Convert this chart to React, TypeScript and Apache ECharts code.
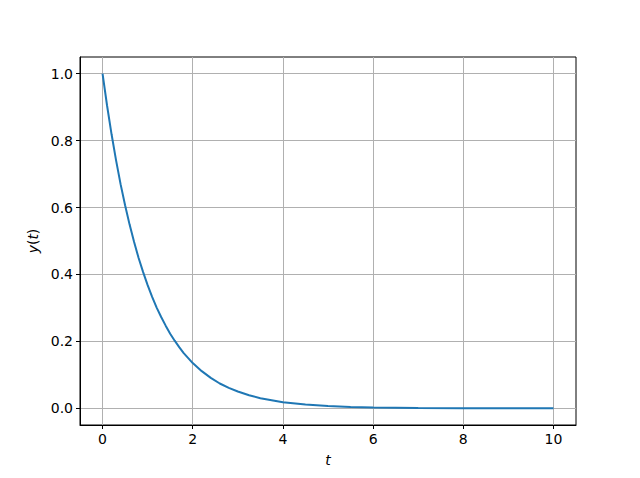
import React, { useEffect, useRef } from "react";
import * as echarts from "echarts";

const tValues = [0, 0.1, 0.2, 0.3, 0.4, 0.5, 0.6, 0.7, 0.8, 0.9, 1.0, 1.1, 1.2, 1.3, 1.4, 1.5, 1.6, 1.7, 1.8, 1.9, 2.0, 2.2, 2.4, 2.6, 2.8, 3.0, 3.25, 3.5, 3.75, 4.0, 4.5, 5, 5.5, 6, 7, 8, 9, 10];
const yValues = [1.0, 0.905, 0.819, 0.741, 0.67, 0.607, 0.549, 0.497, 0.449, 0.407, 0.368, 0.333, 0.301, 0.273, 0.247, 0.223, 0.202, 0.183, 0.165, 0.15, 0.135, 0.111, 0.091, 0.074, 0.061, 0.05, 0.039, 0.03, 0.024, 0.018, 0.011, 0.007, 0.004, 0.0025, 0.001, 0.0003, 0.0001, 0.00005];
const xTicks = [0, 2, 4, 6, 8, 10];
const yTicks = [0.0, 0.2, 0.4, 0.6, 0.8, 1.0];

export default function App() {
  const ref = useRef<HTMLDivElement>(null);
  useEffect(() => {
    const chart = echarts.init(ref.current!, null, { renderer: "svg" });
    const font = "DejaVu Sans";
    chart.setOption({
      animation: false,
      grid: {
        left: 80,
        right: 64,
        top: 57,
        bottom: 53,
        show: true,
        borderColor: "#000",
        borderWidth: 1,
      },
      xAxis: {
        type: "value",
        min: -0.5,
        max: 10.5,
        axisLine: { show: true, onZero: false, lineStyle: { color: "#000", width: 1 } },
        axisTick: { show: true, customValues: xTicks, length: 4, lineStyle: { color: "#000" } },
        axisLabel: {
          customValues: xTicks,
          color: "#000",
          fontFamily: font,
          fontSize: 14,
          margin: 7,
          formatter: (v: number) => String(v),
        },
        splitLine: { show: true, lineStyle: { color: "#b0b0b0", width: 1 } },
        name: "t",
        nameLocation: "middle",
        nameGap: 28,
        nameTextStyle: { fontFamily: font, fontSize: 14, fontStyle: "italic", color: "#000" },
      },
      yAxis: {
        type: "value",
        min: -0.05,
        max: 1.05,
        axisLine: { show: true, onZero: false, lineStyle: { color: "#000", width: 1 } },
        axisTick: { show: true, customValues: yTicks, length: 4, lineStyle: { color: "#000" } },
        axisLabel: {
          customValues: yTicks,
          color: "#000",
          fontFamily: font,
          fontSize: 14,
          margin: 7,
          formatter: (v: number) => v.toFixed(1),
        },
        splitLine: { show: true, lineStyle: { color: "#b0b0b0", width: 1 } },
        name: "{i|y}({i|t})",
        nameLocation: "middle",
        nameGap: 40,
        nameRotate: 90,
        nameTextStyle: {
          fontFamily: font,
          fontSize: 14,
          color: "#000",
          rich: {
            i: { fontFamily: font, fontSize: 14, fontStyle: "italic", color: "#000" },
          },
        },
      },
      series: [
        {
          type: "line",
          data: tValues.map((t, i) => [t, yValues[i]]),
          smooth: false,
          showSymbol: false,
          lineStyle: { color: "#1f77b4", width: 2 },
        },
      ],
    });
    return () => chart.dispose();
  }, []);
  return <div ref={ref} style={{ width: 640, height: 478, position: "absolute", left: 0, top: 0 }} />;
}
